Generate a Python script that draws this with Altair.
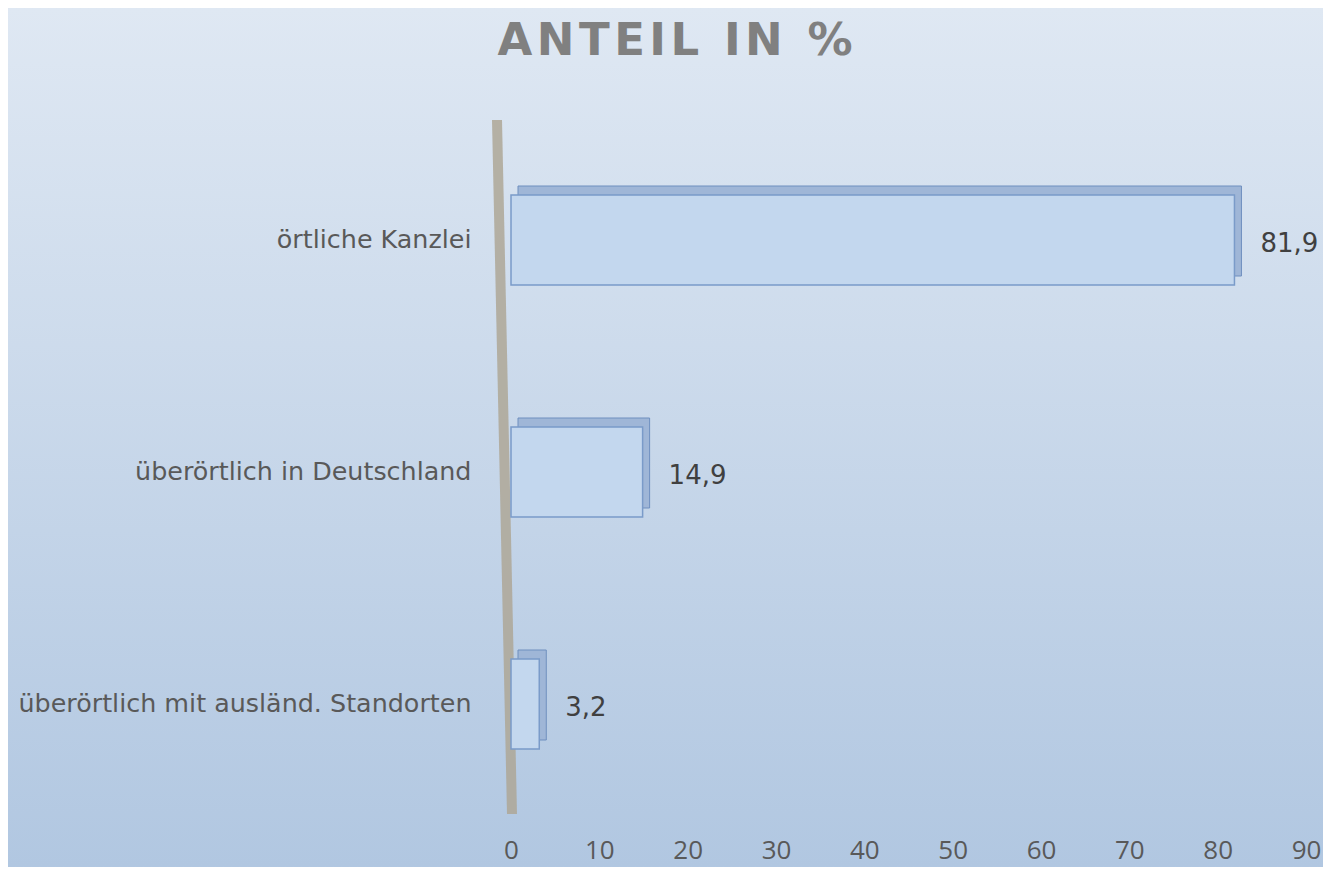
import altair as alt
import pandas as pd

categories = ["örtliche Kanzlei", "überörtlich in Deutschland", "überörtlich mit ausländ. Standorten"]
values = [81.9, 14.9, 3.2]
x_ticks = [0, 10, 20, 30, 40, 50, 60, 70, 80, 90]
title_text = "ANTEIL IN %"

df = pd.DataFrame({"cat": categories, "val": values})
df["label"] = [f"{v:.1f}".replace(".", ",") for v in values]

W, H = 795, 696
PL, PT, PR, PB = 503, 116, 17, 47

one = pd.DataFrame({"k": [0]})

bg = alt.Chart(one).mark_rect(
    fill=alt.Gradient(
        gradient="linear",
        stops=[alt.GradientStop(color="#dfe8f3", offset=0),
               alt.GradientStop(color="#b1c7e1", offset=1)],
        x1=0, x2=0, y1=0, y2=1,
    )
).encode(x=alt.value(-PL), x2=alt.value(W + PR), y=alt.value(-PT), y2=alt.value(H + PB))

wall = alt.Chart(one).mark_rule(color="#aea796", strokeWidth=10, opacity=0.85).encode(
    x=alt.value(-14), x2=alt.value(1), y=alt.value(-4), y2=alt.value(690)
)

xs = alt.X("val:Q", scale=alt.Scale(domain=[0, 90], nice=False),
           axis=alt.Axis(values=x_ticks, title=None, grid=False, ticks=False, domain=False,
                         labelFontSize=26, labelColor="#595959", labelFont="Open Sans",
                         labelPadding=17, labelFlush=False, zindex=1))
ys = alt.Y("cat:N", sort=categories,
           scale=alt.Scale(paddingInner=0, paddingOuter=0),
           axis=alt.Axis(title=None, ticks=False, domain=False, labelFontSize=25.4,
                         labelColor="#595959", labelFont="DejaVu Sans", labelPadding=40,
                         labelLimit=600, zindex=1))

back = alt.Chart(df).mark_bar(size=90, xOffset=7, yOffset=-9, fill="#9fb6d7",
                              stroke="#6f8fbf", strokeWidth=1).encode(x=xs, y=ys)
front = alt.Chart(df).mark_bar(size=90, fill="#c3d7ee", stroke="#7a9bc9",
                               strokeWidth=1.5).encode(x=xs, y=ys)
labels = alt.Chart(df).mark_text(align="left", baseline="middle", dx=26, dy=4,
                                 fontSize=26, font="DejaVu Sans", color="#404040").encode(
    x=xs, y=ys, text="label:N")

spaced_title = "\u200a".join(title_text)
title = alt.Chart(one).mark_text(text=spaced_title, align="center", baseline="alphabetic",
                                 fontSize=45, fontWeight="bold", font="DejaVu Sans",
                                 color="#808080").encode(
    x=alt.value(675 - 8 - PL), y=alt.value(55 - 8 - PT))

chart = alt.layer(bg, wall, back, front, labels, title).properties(
    width=W, height=H,
    autosize=alt.AutoSizeParams(type="none"),
    padding={"left": PL, "top": PT, "right": PR, "bottom": PB},
).configure_view(stroke=None).configure(background="#c6d7eb")

chart.save("out.html", embed_options={"renderer": "svg", "actions": False})
